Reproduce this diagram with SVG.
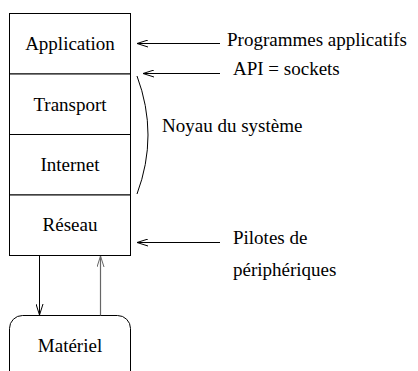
<svg xmlns="http://www.w3.org/2000/svg" width="418" height="371" viewBox="0 0 418 371">
<style>
text{font-family:"Liberation Serif","Times New Roman",serif;font-size:19px;fill:#000}
.c{text-anchor:middle}
.box{fill:#fff;stroke:#000;stroke-width:1}
.ln{fill:none;stroke:#000;stroke-width:1}
</style>
<defs>
<marker id="ah" markerWidth="12" markerHeight="8" refX="11" refY="4" orient="auto" markerUnits="userSpaceOnUse">
<path d="M0,0.5 L11,4 L0,7.5" fill="none" stroke="#000" stroke-width="1"/>
</marker>
<marker id="ahg" markerWidth="12" markerHeight="8" refX="11" refY="4" orient="auto" markerUnits="userSpaceOnUse">
<path d="M0,0.5 L11,4 L0,7.5" fill="none" stroke="#666" stroke-width="1"/>
</marker>
</defs>
<rect width="418" height="371" fill="#fff"/>
<g id="application"><rect class="box" x="9.5" y="13.5" width="121" height="60.5"/><text class="c" x="70" y="50">Application</text></g>
<g id="transport"><rect class="box" x="9.5" y="74" width="121" height="60.5"/><text class="c" x="70" y="110.5">Transport</text></g>
<g id="internet"><rect class="box" x="9.5" y="134.5" width="121" height="60.5"/><text class="c" x="70" y="170.5">Internet</text></g>
<g id="reseau"><rect class="box" x="9.5" y="195" width="121" height="60.5"/><text class="c" x="70" y="230.5">Réseau</text></g>
<g id="materiel"><rect class="box" x="9.5" y="315.5" width="121" height="75" rx="13"/><text class="c" x="70" y="351.5">Matériel</text></g>
<g id="connectors">
<line class="ln" x1="220" y1="43.5" x2="137" y2="43.5" marker-end="url(#ah)"/>
<line class="ln" x1="220" y1="73.5" x2="143" y2="73.5" marker-end="url(#ah)"/>
<line class="ln" x1="220" y1="242.5" x2="137" y2="242.5" marker-end="url(#ah)"/>
<line class="ln" x1="39.5" y1="255.5" x2="39.5" y2="315" marker-end="url(#ah)"/>
<line x1="100.5" y1="315.5" x2="100.5" y2="256" stroke="#666" stroke-width="1.2" marker-end="url(#ahg)"/>
<path class="ln" d="M137,76 Q159,135 137,194"/>
</g>
<g id="labels">
<text x="227" y="45.5">Programmes applicatifs</text>
<text x="233" y="75">API = sockets</text>
<text x="162" y="132">Noyau du système</text>
<text x="233" y="243.5">Pilotes de</text>
<text x="233" y="275.5">périphériques</text>
</g>
</svg>
